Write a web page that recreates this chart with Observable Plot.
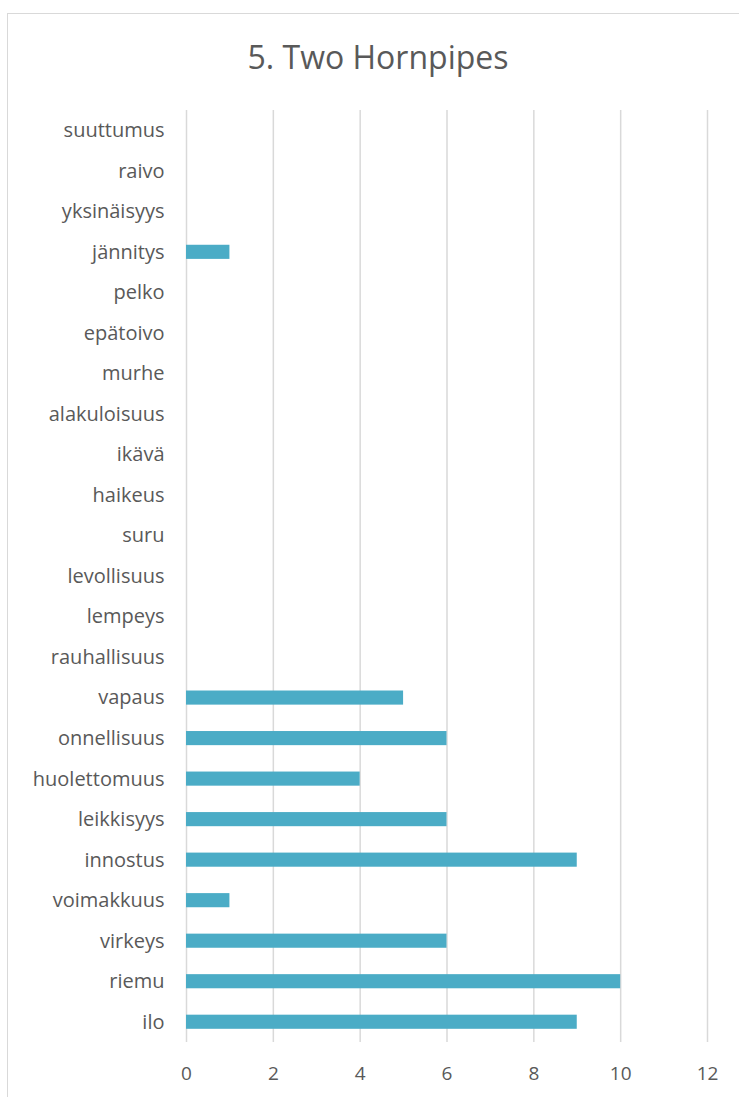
<!DOCTYPE html>
<html>
<head>
<meta charset="utf-8">
<script src="https://cdn.jsdelivr.net/npm/d3@7"></script>
<script src="https://cdn.jsdelivr.net/npm/@observablehq/plot@0.6"></script>
<style>
  html, body { margin: 0; padding: 0; background: #fff; overflow: hidden; }
  #wrap { position: relative; width: 739px; height: 1097px; overflow: hidden; }
  #frame { position: absolute; left: 7px; top: 13px; width: 800px; height: 1200px; border: 1.5px solid #d9d9d9; box-sizing: border-box; }
  #title { position: absolute; left: 0; width: 756px; top: 35px; text-align: center; font-family: "Open Sans", sans-serif; font-size: 32px; color: #595959; }
  #chart { position: absolute; left: 0; top: 0; }
</style>
</head>
<body>
<div id="wrap">
  <div id="frame"></div>
  <div id="chart"></div>
  <div id="title">5. Two Hornpipes</div>
</div>
<script>
const categories = ["suuttumus","raivo","yksinäisyys","jännitys","pelko","epätoivo","murhe","alakuloisuus","ikävä","haikeus","suru","levollisuus","lempeys","rauhallisuus","vapaus","onnellisuus","huolettomuus","leikkisyys","innostus","voimakkuus","virkeys","riemu","ilo"];
const values = [0,0,0,1,0,0,0,0,0,0,0,0,0,0,5,6,4,6,9,1,6,10,9];
const xTicks = [0,2,4,6,8,10,12];

const data = categories.map((c, i) => ({category: c, value: values[i]}));

const chart = Plot.plot({
  width: 739,
  height: 1097,
  marginTop: 110,
  marginBottom: 55,
  marginLeft: 186,
  marginRight: 32,
  style: { fontFamily: "'Open Sans', sans-serif", fontSize: "19px", color: "#595959", background: "transparent", overflow: "visible" },
  x: { domain: [0, 12], ticks: xTicks, grid: false },
  y: { domain: categories, padding: 0, round: false },
  marks: [
    Plot.ruleX(xTicks, { stroke: "#d9d9d9", strokeWidth: 1.5 }),
    Plot.barX(data.filter(d => d.value > 0), { x: "value", y: "category", fill: "#4BACC6", insetTop: 13.2, insetBottom: 13.2 }),
    Plot.axisX({ ticks: xTicks, tickSize: 0, tickPadding: 24, label: null, fontSize: 19, fill: "#595959" }),
    Plot.axisY({ tickSize: 0, tickPadding: 22, label: null, fontSize: 20, fill: "#595959" })
  ]
});
document.getElementById("chart").appendChild(chart);
</script>
</body>
</html>
